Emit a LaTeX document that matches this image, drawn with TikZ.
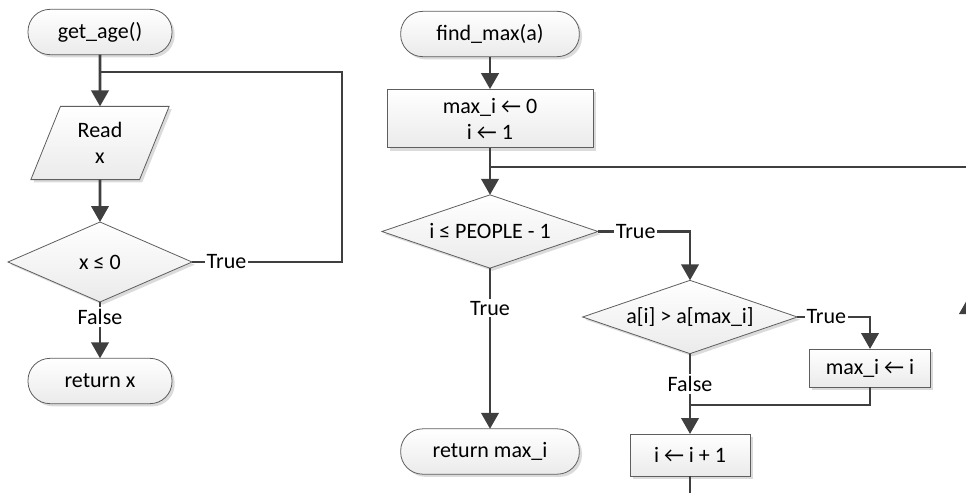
\documentclass[tikz,border=0pt]{standalone}
\usepackage{fontspec}
\setmainfont{Carlito}
\usetikzlibrary{shapes.geometric, arrows.meta, shadows}
\definecolor{fcLine}{HTML}{3F3F3F}
\definecolor{fcEdge}{HTML}{5E5E5E}

\begin{document}
\begin{tikzpicture}[x=0.75pt, y=-0.75pt,
  every node/.style={font=\fontsize{16.5}{19.5}\selectfont},
  blk/.style={draw=fcEdge, line width=0.6pt, top color=white, bottom color=black!8,
    drop shadow={shadow xshift=2pt, shadow yshift=-2pt, fill=black!14, opacity=1},
    inner sep=0pt, outer sep=0pt, align=center},
  term/.style={blk, rectangle, rounded corners=16.5pt, minimum width=108pt, minimum height=34pt},
  proc/.style={blk, rectangle},
  io/.style={blk, trapezium, trapezium left angle=68, trapezium right angle=112,
    minimum width=104pt, minimum height=48pt},
  cond/.style={blk, diamond, aspect=2.6},
  flow/.style={draw=fcLine, line width=2.2pt, -{Triangle[length=12pt, width=13pt]}},
  link/.style={draw=fcLine, line width=2.2pt},
  lbl/.style={fill=white, inner sep=1.5pt}]
  \useasboundingbox (0,0) rectangle (966,492);
  \clip (0,0) rectangle (966,492);

  \node[term] (getage) at (100,32) {get\_age()};
  \node[io] (read) at (100,143) {Read\\x};
  \node[cond, minimum width=138pt, minimum height=60pt] (xle) at (100,262) {x ≤ 0};
  \node[term] (retx) at (100,381) {return x};

  \node[term, minimum width=134pt] (findmax) at (490,34) {find\_max(a)};
  \node[proc, minimum width=154.5pt, minimum height=44pt] (init) at (490,118.5) {max\_i ← 0\\i ← 1};
  \node[cond, minimum width=162pt, minimum height=55pt] (ile) at (490,231.5) {i ≤ PEOPLE - 1};
  \node[term, minimum width=134pt] (retmax) at (490,451.5) {return max\_i};
  \node[cond, minimum width=161pt, minimum height=55pt] (agt) at (690,317) {a[i] > a[max\_i]};
  \node[proc, minimum width=90.75pt, minimum height=28.5pt] (setmax) at (870,368) {max\_i ← i};
  \node[proc, minimum width=90pt, minimum height=31.5pt] (inc) at (690,455) {i ← i + 1};

  \coordinate (j1) at (100,72);
  \coordinate (j2) at (490,167);
  \coordinate (j3) at (690,405);
  \coordinate (back) at (968,298);

  \draw[flow] (getage) -- (read);
  \draw[flow] (read) -- (xle);
  \draw[link] (xle.east) -- node[lbl, pos=.23]{True} ++(150,0) |- (j1);
  \draw[flow] (xle) -- node[lbl, pos=.27]{False} (retx);

  \draw[flow] (findmax) -- (init);
  \draw[flow] (init) -- (ile);
  \draw[flow] (ile.east) -- node[lbl, pos=.41]{True} (ile.east -| agt.north) -- (agt.north);
  \draw[flow] (ile) -- node[lbl, pos=.25]{True} (retmax);
  \draw[flow] (agt.east) -- node[lbl, pos=.4]{True} (agt.east -| setmax.north) -- (setmax.north);
  \draw[flow] (agt) -- node[lbl, pos=.375]{False} (inc);
  \draw[link] (setmax.south) |- (j3);
  \draw[flow] (inc.south) -- ++(0,40) -| (back);
  \draw[link] (back) |- (j2);
\end{tikzpicture}
\end{document}
